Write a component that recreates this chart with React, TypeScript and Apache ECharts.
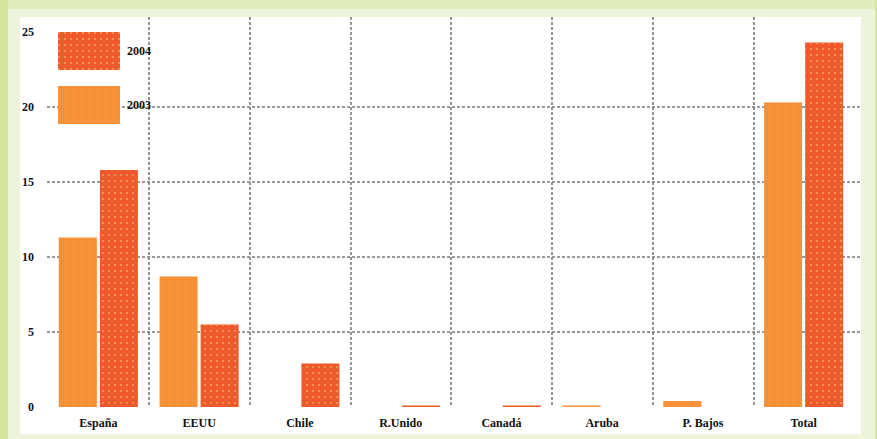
import React, { useEffect, useRef } from "react";
import * as echarts from "echarts";

const categories = ["España", "EEUU", "Chile", "R.Unido", "Canadá", "Aruba", "P. Bajos", "Total"];
const values2003 = [11.3, 8.7, 0, 0, 0, 0.1, 0.4, 20.3];
const values2004 = [15.8, 5.5, 2.9, 0.1, 0.1, 0, 0, 24.3];
const yMin = 0;
const yMax = 26;
const yInterval = 5;

const GRID_COLOR = "#7a7a7a";
const FONT = "Liberation Serif";

export default function App() {
  const ref = useRef<HTMLDivElement>(null);

  useEffect(() => {
    if (!ref.current) return;
    const chart = echarts.init(ref.current, undefined, { renderer: "svg" });

    // horizontal lines: hide at 0, 25 and 26
    const hTicks: number[] = [];
    for (let v = yMin; v <= yMax; v += yInterval) hTicks.push(v);
    if (hTicks[hTicks.length - 1] !== yMax) hTicks.push(yMax);
    const hColors = hTicks.map((v) => (v > yMin && v < 25 ? GRID_COLOR : "rgba(0,0,0,0)"));
    // vertical lines: hide first and last boundary
    const vColors = [
      "rgba(0,0,0,0)",
      ...categories.slice(1).map(() => GRID_COLOR),
      "rgba(0,0,0,0)",
    ];

    chart.setOption({
      animation: false,
      backgroundColor: "transparent",
      grid: [
        { left: 48, right: 23, top: 17, bottom: 32, containLabel: false },
        { left: 47, right: 15, top: 17, bottom: 32, containLabel: false },
      ],
      legend: {
        orient: "vertical",
        left: 58,
        top: 32,
        padding: 0,
        icon: "rect",
        itemWidth: 62,
        itemHeight: 38,
        itemGap: 16,
        data: ["2004", "2003"],
        textStyle: { fontFamily: FONT, fontSize: 12, fontWeight: "bold", color: "#111", padding: [4, 0, 0, 2] },
      },
      xAxis: [
        {
          type: "category",
          gridIndex: 0,
          data: categories,
          boundaryGap: true,
          axisLine: { show: false },
          axisTick: { show: false },
          axisLabel: { fontFamily: FONT, fontSize: 12, fontWeight: "bold", color: "#111", margin: 10 },
          splitLine: {
            show: true,
            lineStyle: { color: vColors, width: 1.6, type: [3, 2] },
          },
        },
        { type: "value", gridIndex: 1, min: 0, max: 1, show: false },
      ],
      yAxis: [
        {
          type: "value",
          gridIndex: 0,
          min: yMin,
          max: yMax,
          interval: yInterval,
          axisLine: { show: false },
          axisTick: { show: false },
          splitLine: { show: false },
          axisLabel: {
            fontFamily: FONT,
            fontSize: 12,
            fontWeight: "bold",
            color: "#111",
            margin: 14,
            showMaxLabel: false,
          },
        },
        {
          type: "value",
          gridIndex: 1,
          min: yMin,
          max: yMax,
          interval: yInterval,
          axisLine: { show: false },
          axisTick: { show: false },
          axisLabel: { show: false },
          splitLine: {
            show: true,
            lineStyle: { color: hColors, width: 1.6, type: [3, 2] },
          },
        },
      ],
      series: [
        {
          name: "2003",
          type: "bar",
          xAxisIndex: 0,
          yAxisIndex: 0,
          data: values2003,
          barWidth: 38,
          barGap: "8%",
          itemStyle: {
            color: "#f58c32",
            decal: {
              symbol: "rect",
              symbolSize: 1,
              color: "rgba(255,185,110,0.4)",
              dashArrayX: [1, 1],
              dashArrayY: [1, 1],
            },
          },
        },
        {
          name: "2004",
          type: "bar",
          xAxisIndex: 0,
          yAxisIndex: 0,
          data: values2004,
          barWidth: 38,
          itemStyle: {
            color: "#ee5a2a",
            decal: {
              symbol: "circle",
              symbolSize: 1,
              color: "rgba(250,160,100,0.85)",
              dashArrayX: [2, 4],
              dashArrayY: [2, 4],
            },
          },
        },
        {
          type: "scatter",
          xAxisIndex: 1,
          yAxisIndex: 1,
          data: [],
          silent: true,
        },
      ],
    });

    return () => chart.dispose();
  }, []);

  return (
    <div
      style={{
        position: "fixed",
        left: 0,
        top: 0,
        width: 877,
        height: 439,
        background: "#eef4dc",
        overflow: "hidden",
      }}
    >
      <div style={{ position: "absolute", left: 0, top: 0, width: 875, height: 9, background: "#e3ecbf" }} />
      <div style={{ position: "absolute", left: 0, top: 0, width: 8, height: 439, background: "#d8e59e" }} />
      <div style={{ position: "absolute", left: 875, top: 0, width: 2, height: 439, background: "#d8e59e" }} />
      <div style={{ position: "absolute", left: 20, top: 17, width: 841, height: 417, background: "#ffffff" }} />
      <div ref={ref} style={{ position: "absolute", left: 0, top: 0, width: 877, height: 439 }} />
    </div>
  );
}
